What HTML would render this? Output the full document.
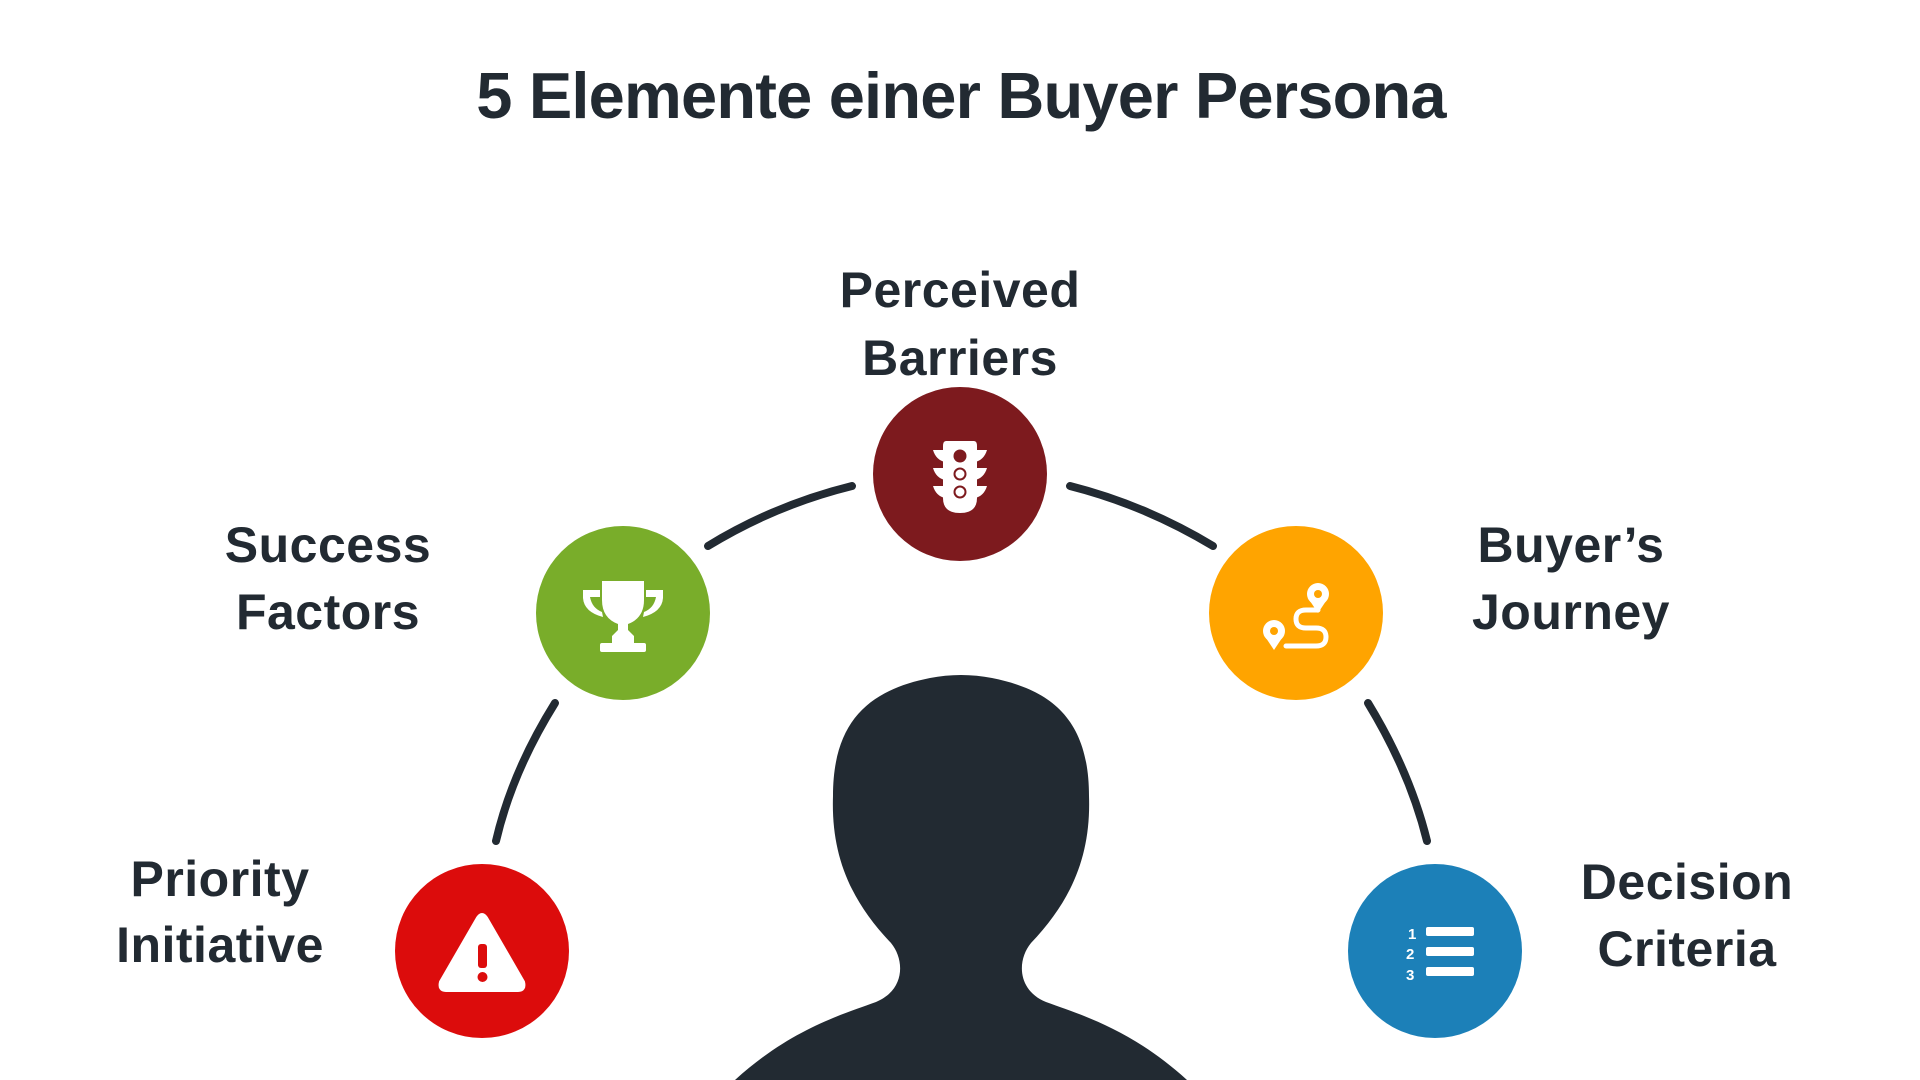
<!DOCTYPE html>
<html><head><meta charset="utf-8"><style>
html,body{margin:0;padding:0;background:#fff;}
svg{display:block;}
text{font-family:"Liberation Sans",sans-serif;font-weight:bold;fill:#222a32;}
</style></head><body>
<svg width="1920" height="1080" viewBox="0 0 1920 1080" xmlns="http://www.w3.org/2000/svg">
<text x="961" y="118" font-size="65" text-anchor="middle" letter-spacing="-0.8">5 Elemente einer Buyer Persona</text>

<g font-size="50" text-anchor="middle" letter-spacing="0.5">
<text x="960" y="307">Perceived</text><text x="960" y="375">Barriers</text>
<text x="328" y="562">Success</text><text x="328" y="629">Factors</text>
<text x="1571" y="562">Buyer’s</text><text x="1571" y="629">Journey</text>
<text x="220" y="896">Priority</text><text x="220" y="962">Initiative</text>
<text x="1687" y="899">Decision</text><text x="1687" y="966">Criteria</text>
</g>

<g fill="none" stroke="#222a32" stroke-width="8" stroke-linecap="round">
<path d="M708,546 Q775,505 852,486"/>
<path d="M1070,486 Q1145,505 1213,546"/>
<path d="M555,703 Q512,772 496,841"/>
<path d="M1368,703 Q1410,772 1427,841"/>
</g>

<circle cx="960" cy="474" r="87" fill="#7d1a1e"/>
<circle cx="623" cy="613" r="87" fill="#79ad2a"/>
<circle cx="1296" cy="613" r="87" fill="#ffa400"/>
<circle cx="482" cy="951" r="87" fill="#dc0c0c"/>
<circle cx="1435" cy="951" r="87" fill="#1c80b8"/>

<!-- traffic light -->
<g fill="#fff">
<path d="M946,441 H974 Q977,441 977,446 V498 Q977,513 960,513 Q943,513 943,498 V446 Q943,441 946,441 Z"/>
<path d="M933,450 H945 V462 Q936,460 933,450 Z M987,450 H975 V462 Q984,460 987,450 Z"/>
<path d="M933,468 H945 V480 Q936,478 933,468 Z M987,468 H975 V480 Q984,478 987,468 Z"/>
<path d="M933,486 H945 V498 Q936,496 933,486 Z M987,486 H975 V498 Q984,496 987,486 Z"/>
</g>
<circle cx="960" cy="456" r="6.5" fill="#7d1a1e"/>
<circle cx="960" cy="474" r="5.5" fill="none" stroke="#7d1a1e" stroke-width="2"/>
<circle cx="960" cy="492" r="5.5" fill="none" stroke="#7d1a1e" stroke-width="2"/>

<!-- trophy -->
<g fill="#fff">
<path d="M602,581 H644 V600 Q644,618 628,624 V630 L634,636 V644 H612 V636 L618,630 V624 Q602,618 602,600 Z"/>
<path d="M583,590 H600 V597 H590 Q592,608 602,612 L603,617 Q584,612 583,598 Z"/>
<path d="M663,590 H646 V597 H656 Q654,608 644,612 L643,617 Q662,612 663,598 Z"/>
<rect x="600" y="643" width="46" height="9" rx="2"/>
</g>

<!-- journey -->
<g fill="none" stroke="#fff" stroke-width="5" stroke-linecap="round">
<path d="M1318,610 H1306 Q1296,610 1296,619 Q1296,628 1306,628 H1316 Q1326,628 1326,637 Q1326,646 1316,646 H1286"/>
</g>
<g fill="#fff">
<circle cx="1318" cy="594" r="11"/>
<path d="M1308,598 L1318,613 L1328,598 Z"/>
<circle cx="1274" cy="631" r="11"/>
<path d="M1264,635 L1274,650 L1284,635 Z"/>
</g>
<circle cx="1318" cy="594" r="4" fill="#ffa400"/>
<circle cx="1274" cy="631" r="4" fill="#ffa400"/>

<!-- warning -->
<path d="M478,918 Q482,912 486,918 L523,982 Q525,990 518,990 H446 Q439,990 441,982 Z" fill="#fff" stroke="#fff" stroke-width="4" stroke-linejoin="round"/>
<rect x="478" y="944" width="9" height="24" rx="3" fill="#dc0c0c"/>
<circle cx="482.5" cy="977" r="5" fill="#dc0c0c"/>

<!-- list -->
<g fill="#fff">
<rect x="1426" y="927" width="48" height="9" rx="2"/>
<rect x="1426" y="947" width="48" height="9" rx="2"/>
<rect x="1426" y="967" width="48" height="9" rx="2"/>
<text x="1408" y="939" font-size="15" style="fill:#fff">1</text>
<text x="1406" y="959" font-size="15" style="fill:#fff">2</text>
<text x="1406" y="980" font-size="15" style="fill:#fff">3</text>
</g>

<!-- person -->
<path fill="#222a32" d="M735,1080 C790,1030 840,1015 876,1002 C905,990 905,960 891,943 C850,900 831,855 833,796 C833,720 870,690 930,678 C950,674 972,674 992,678 C1052,690 1089,720 1089,796 C1091,855 1072,900 1031,943 C1017,960 1017,990 1046,1002 C1082,1015 1132,1030 1187,1080 Z"/>
</svg>
</body></html>
